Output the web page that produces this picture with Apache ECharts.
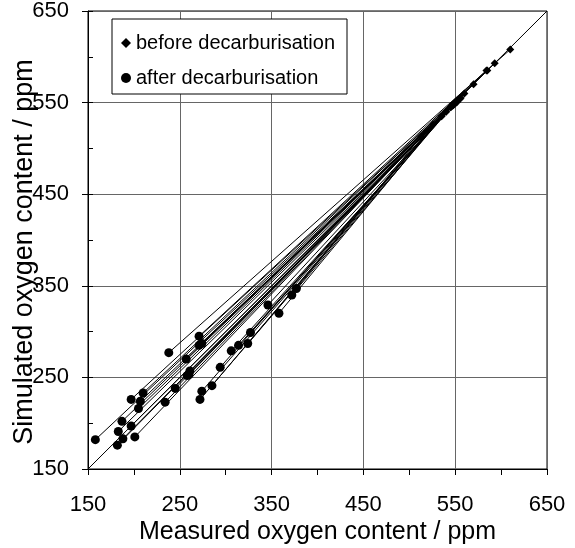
<!DOCTYPE html>
<html>
<head>
<meta charset="utf-8">
<script src="https://cdn.jsdelivr.net/npm/echarts@6/dist/echarts.min.js"></script>
<style>
html,body{margin:0;padding:0;background:#fff;}
#chart{width:575px;height:548px;}
</style>
</head>
<body>
<div id="chart"></div>
<script>
// measured (x) / simulated (y) oxygen, ppm
var afterX  = [158,182,183,187,188,197,197,201,205,207,210,234,238,245,257,258,260,261,271,271,274, 272,274,285,294,306,314,324,327,346,358,372,377];
var afterY  = [182,176,191,202,183,197,226,185,216,224,233,223,277,238,270,252,253,257,295,285,287, 226,235,241,261,279,285,287,299,329,320,340,347];
var beforeX = [550,540,548,552,545,550,570,535,553,556,585,546,610,549,593,551,548,555,584,560,552, 548,545,526,549,552,546,535,550,551,540,548,513];
var beforeY = [550,540,547,552,545,549,570,535,553,555,585,546,608,549,593,551,548,554,585,560,551, 548,545,526,549,551,546,535,550,551,540,548,513];
var diagX = [150,650];
var diagY = [150,650];
var axisMin = 150, axisMax = 650, axisStep = 100;

var FONT = 'Liberation Sans, Arial, sans-serif';
var myChart = echarts.init(document.getElementById('chart'));

var pairs = [], before = [], after = [];
for (var i = 0; i < afterX.length; i++) {
	pairs.push({coords: [[afterX[i], afterY[i]], [beforeX[i], beforeY[i]]]});
	before.push([beforeX[i], beforeY[i]]);
	after.push([afterX[i], afterY[i]]);
}
var diag = [];
for (var j = 0; j < diagX.length; j++) diag.push([diagX[j], diagY[j]]);

function mainAxis(name, isX) {
	return {
		type: 'value',
		min: axisMin, max: axisMax, interval: axisStep,
		name: name,
		nameLocation: 'middle',
		nameGap: isX ? 51 : 50,
		nameMoveOverlap: false,
		nameTextStyle: {fontFamily: FONT, fontSize: isX ? 25 : 27, color: '#000',
			padding: isX ? 0 : [0, 24, 0, 0]},
		axisLine: {show: true, lineStyle: {color: '#000', width: 1}},
		axisTick: {show: true, inside: false, length: 6, lineStyle: {color: '#000'}},
		minorTick: {show: isX, splitNumber: 2, length: 6, lineStyle: {color: '#000'}},
		axisLabel: {fontFamily: FONT, fontSize: 22, color: '#000', margin: isX ? 25 : 19},
		splitLine: {show: true, lineStyle: {color: '#666', width: 1}}
	};
}

option = {
	animation: false,
	backgroundColor: '#fff',
	grid: {left: 88, top: 11, width: 459, height: 458, show: true, borderColor: '#000', borderWidth: 1,
		outerBoundsMode: 'none', containLabel: false},
	legend: {
		left: 112, top: 19,
		orient: 'vertical',
		backgroundColor: '#fff',
		borderColor: '#000', borderWidth: 1, borderRadius: 0,
		padding: [14, 12, 6, 9],
		itemWidth: 10, itemHeight: 10, itemGap: 15,
		textStyle: {fontFamily: FONT, fontSize: 20, color: '#000'},
		data: [
			{name: 'before decarburisation', icon: 'diamond'},
			{name: 'after decarburisation', icon: 'circle'}
		]
	},
	xAxis: mainAxis('Measured oxygen content / ppm', true),
	yAxis: [
		mainAxis('Simulated oxygen content / ppm', false),
		{
			type: 'value', min: axisMin, max: axisMax, interval: 50,
			position: 'left',
			axisLine: {show: false},
			axisTick: {show: true, inside: true, length: 5, lineStyle: {color: '#000'}},
			axisLabel: {show: false},
			splitLine: {show: false}
		}
	],
	series: [
		{
			type: 'lines',
			coordinateSystem: 'cartesian2d',
			silent: true,
			lineStyle: {color: '#000', width: 1, opacity: 1},
			data: pairs
		},
		{
			type: 'line',
			data: diag,
			symbol: 'none',
			lineStyle: {color: '#000', width: 1}
		},
		{
			name: 'before decarburisation',
			type: 'scatter',
			symbol: 'diamond',
			symbolSize: 8,
			itemStyle: {color: '#000', opacity: 1},
			data: before
		},
		{
			name: 'after decarburisation',
			type: 'scatter',
			symbol: 'circle',
			symbolSize: 9,
			itemStyle: {color: '#000', opacity: 1},
			data: after
		}
	]
};
myChart.setOption(option);
</script>
</body>
</html>
